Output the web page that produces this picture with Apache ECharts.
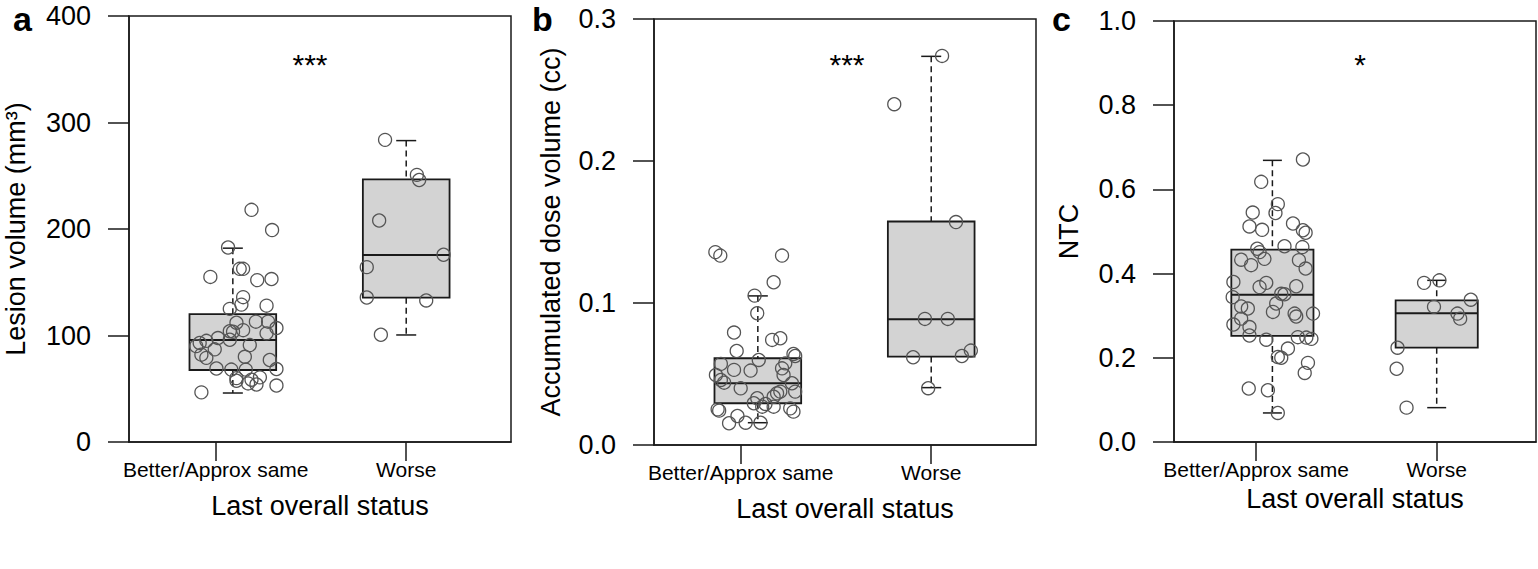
<!DOCTYPE html>
<html>
<head>
<meta charset="utf-8">
<script src="https://cdn.jsdelivr.net/npm/echarts@6.0.0/dist/echarts.min.js"></script>
<style>
html, body { margin: 0; padding: 0; background: #fff; }
#chart { width: 1538px; height: 569px; }
</style>
</head>
<body>
<div id="chart"></div>
<script>
const groupNames = ["Better/Approx same", "Worse"];
const groupPositions = [1.09, 2.0];

// [lower whisker, Q1, median, Q3, upper whisker] per group
const lesionStats = [[46, 67.6, 95.8, 120, 182], [100.5, 135.5, 175.6, 246.6, 283]];
const doseStats = [[0.0157, 0.0294, 0.0435, 0.0611, 0.105], [0.0404, 0.0623, 0.0886, 0.1574, 0.2737]];
const ntcStats = [[0.069, 0.252, 0.350, 0.457, 0.669], [0.0816, 0.224, 0.306, 0.3365, 0.384]];

// jittered points: [x position, value]
const lesionBetter = [
    [1.188, 218], [1.296, 199], [1.065, 182.6], [0.972, 155], [1.126, 162.6], [1.144, 162.6],
    [1.218, 152], [1.293, 153], [1.144, 136], [1.135, 129], [1.074, 125], [1.267, 128],
    [1.211, 113], [1.275, 113], [1.109, 112], [1.319, 107], [1.144, 105], [1.074, 104],
    [1.091, 103.5], [1.267, 102], [1.012, 97.6], [1.074, 96], [0.951, 95], [0.916, 93],
    [1.179, 91], [0.898, 90], [0.995, 87], [0.925, 82], [0.951, 79], [1.153, 80],
    [1.284, 77], [1.004, 69], [1.082, 68], [1.158, 68], [1.319, 68.5], [1.109, 60],
    [1.232, 60.7], [1.188, 58.5], [1.109, 57.5], [1.170, 55], [1.214, 54], [1.319, 53], [0.925, 46.6]
];
const lesionWorse = [
    [1.889, 283.7], [2.056, 250.8], [2.068, 246], [1.858, 208], [2.196, 175.8],
    [1.793, 164.2], [1.793, 135.7], [2.105, 132.9], [1.867, 100.7]
];
const doseBetter = [
    [0.867, 0.1358], [0.893, 0.1334], [1.217, 0.1334], [1.173, 0.1146], [1.073, 0.1052], [1.087, 0.0928],
    [0.965, 0.0792], [1.165, 0.074], [1.208, 0.0752], [0.979, 0.0662], [1.095, 0.0599], [1.277, 0.0641],
    [1.286, 0.0627], [0.896, 0.0571], [0.965, 0.0529], [1.052, 0.0524], [1.217, 0.054], [1.234, 0.0575],
    [0.870, 0.0493], [0.896, 0.0458], [0.913, 0.0439], [1.225, 0.0493], [1.000, 0.0399], [1.269, 0.0435],
    [1.286, 0.0376], [1.208, 0.0376], [1.191, 0.0364], [1.173, 0.034], [1.087, 0.0329], [1.069, 0.0294],
    [1.130, 0.0289], [1.113, 0.027], [1.173, 0.027], [0.887, 0.0242], [0.879, 0.0251], [1.260, 0.0258],
    [1.277, 0.0235], [0.983, 0.0204], [0.939, 0.0153], [1.026, 0.0157], [1.104, 0.0157]
];
const doseWorse = [
    [2.057, 0.274], [1.806, 0.240], [2.130, 0.157], [1.967, 0.0888], [2.087, 0.0888],
    [1.905, 0.0618], [2.161, 0.0627], [2.208, 0.0665], [1.984, 0.040]
];
const ntcBetter = [
    [1.259, 0.671], [1.028, 0.618], [1.120, 0.565], [1.107, 0.544], [0.981, 0.545], [0.963, 0.512],
    [1.033, 0.504], [1.204, 0.519], [1.259, 0.503], [1.274, 0.497], [1.006, 0.459], [1.157, 0.465],
    [1.256, 0.463], [1.019, 0.451], [0.917, 0.433], [0.972, 0.420], [1.046, 0.435], [1.237, 0.432],
    [1.274, 0.412], [0.874, 0.380], [1.056, 0.378], [1.019, 0.368], [1.222, 0.370], [0.870, 0.344],
    [1.139, 0.352], [1.157, 0.351], [0.917, 0.322], [0.954, 0.317], [1.111, 0.329], [1.093, 0.309],
    [1.213, 0.305], [1.222, 0.298], [1.315, 0.305], [0.874, 0.279], [0.917, 0.293], [0.963, 0.273],
    [0.963, 0.253], [1.056, 0.243], [1.231, 0.249], [1.278, 0.248], [1.306, 0.245], [1.176, 0.222],
    [1.120, 0.202], [1.139, 0.200], [1.287, 0.188], [1.269, 0.164], [0.959, 0.127], [1.065, 0.123], [1.120, 0.069]
];
const ntcWorse = [
    [1.833, 0.0816], [1.778, 0.174], [1.783, 0.224], [1.930, 0.378], [2.015, 0.384],
    [1.985, 0.321], [2.115, 0.305], [2.130, 0.293], [2.189, 0.338]
];

const lesionTicks = [0, 100, 200, 300, 400];
const doseTicks = [0, 0.1, 0.2, 0.3];
const ntcTicks = [0, 0.2, 0.4, 0.6, 0.8, 1.0];

const panelLetters = ["a", "b", "c"];
const significance = ["***", "***", "*"];
const yNames = ["Lesion volume (mm\u00B3)", "Accumulated dose volume (cc)", "NTC"];

const FONT = "Liberation Sans, Arial, sans-serif";
const INK = "#1a1a1a";
const BOX_WIDTH = 0.455;
const CAP_WIDTH = 0.105;

const panels = [
    { stats: lesionStats, better: lesionBetter, worse: lesionWorse, ticks: lesionTicks, digits: 0,
      grid: { left: 129, top: 16, width: 382, height: 426 }, nameGap: 100, xNameGap: 50, letterX: 13, starX: 310 },
    { stats: doseStats, better: doseBetter, worse: doseWorse, ticks: doseTicks, digits: 1,
      grid: { left: 654, top: 19, width: 382, height: 426 }, nameGap: 90, xNameGap: 50, letterX: 532, starX: 847 },
    { stats: ntcStats, better: ntcBetter, worse: ntcWorse, ticks: ntcTicks, digits: 1,
      grid: { left: 1174, top: 21, width: 362, height: 421 }, nameGap: 92, xNameGap: 43, letterX: 1052, starX: 1360 }
];

// Draws one box with dashed whiskers and solid caps.
function renderBox(params, api) {
    const x = api.value(0);
    const lo = api.coord([x, api.value(1)]);
    const q1 = api.coord([x, api.value(2)]);
    const md = api.coord([x, api.value(3)]);
    const q3 = api.coord([x, api.value(4)]);
    const hi = api.coord([x, api.value(5)]);
    const bw = api.size([BOX_WIDTH, 0])[0];
    const cw = api.size([CAP_WIDTH, 0])[0];
    const cx = lo[0];
    const dashed = { stroke: INK, lineWidth: 1.5, lineDash: [6, 4] };
    const solid = { stroke: INK, lineWidth: 1.5 };
    return {
        type: "group",
        children: [
            { type: "line", shape: { x1: cx, y1: hi[1], x2: cx, y2: q3[1] }, style: dashed },
            { type: "line", shape: { x1: cx, y1: q1[1], x2: cx, y2: lo[1] }, style: dashed },
            { type: "line", shape: { x1: cx - cw / 2, y1: hi[1], x2: cx + cw / 2, y2: hi[1] }, style: solid },
            { type: "line", shape: { x1: cx - cw / 2, y1: lo[1], x2: cx + cw / 2, y2: lo[1] }, style: solid },
            { type: "rect", shape: { x: cx - bw / 2, y: q3[1], width: bw, height: q1[1] - q3[1] },
              style: { fill: "#d3d3d3", stroke: INK, lineWidth: 1.8 } },
            { type: "line", shape: { x1: cx - bw / 2, y1: md[1], x2: cx + bw / 2, y2: md[1] },
              style: { stroke: INK, lineWidth: 2 } }
        ]
    };
}

const grids = [];
const xAxes = [];
const yAxes = [];
const series = [];
const graphics = [];

panels.forEach((panel, i) => {
    grids.push(Object.assign({ show: true, borderColor: INK, borderWidth: 1.5, containLabel: false }, panel.grid));

    xAxes.push({
        gridIndex: i, type: "value", min: 0.545, max: 2.55,
        axisLine: { show: true, lineStyle: { color: INK, width: 1.5 } },
        axisTick: { show: true, customValues: [1, 2], length: 19, lineStyle: { color: INK, width: 1.5 } },
        axisLabel: { customValues: [1, 2], formatter: v => groupNames[Math.round(v) - 1],
            fontSize: 21, margin: 17, color: "#000", fontFamily: FONT },
        splitLine: { show: false },
        name: "Last overall status", nameLocation: "middle", nameGap: panel.xNameGap,
        nameTextStyle: { fontSize: 27, color: "#000", fontFamily: FONT }
    });

    const ticks = panel.ticks;
    yAxes.push({
        gridIndex: i, type: "value", min: ticks[0], max: ticks[ticks.length - 1], interval: ticks[1] - ticks[0],
        axisLine: { show: true, lineStyle: { color: INK, width: 1.5 } },
        axisTick: { show: true, length: 21, lineStyle: { color: INK, width: 1.5 } },
        axisLabel: { formatter: v => v.toFixed(panel.digits), fontSize: 27, margin: 38, color: "#000", fontFamily: FONT },
        splitLine: { show: false },
        name: yNames[i], nameLocation: "middle", nameGap: panel.nameGap,
        nameTextStyle: { fontSize: 27, color: "#000", fontFamily: FONT }
    });

    series.push({
        type: "custom", xAxisIndex: i, yAxisIndex: i, z: 2, silent: true, clip: false,
        renderItem: renderBox,
        encode: { x: 0, y: [1, 2, 3, 4, 5] },
        data: groupPositions.map((pos, g) => [pos].concat(panel.stats[g]))
    });

    series.push({
        type: "scatter", xAxisIndex: i, yAxisIndex: i, z: 3, silent: true,
        symbol: "circle", symbolSize: 13,
        itemStyle: { color: "rgba(0,0,0,0)", borderColor: "#555", borderWidth: 1.3, opacity: 1 },
        data: panel.better.concat(panel.worse)
    });

    graphics.push({
        type: "text", x: panel.letterX, y: 19,
        style: { text: panelLetters[i], font: "bold 34px " + FONT, fill: "#000", textVerticalAlign: "middle" }
    });
    graphics.push({
        type: "text", x: panel.starX, y: 64,
        style: { text: significance[i], font: "30px " + FONT, fill: "#000", textAlign: "center", textVerticalAlign: "middle" }
    });
});

const chart = echarts.init(document.getElementById("chart"), null, { renderer: "svg" });
chart.setOption({
    animation: false,
    backgroundColor: "#fff",
    grid: grids,
    xAxis: xAxes,
    yAxis: yAxes,
    series: series,
    graphic: graphics
});
</script>
</body>
</html>
